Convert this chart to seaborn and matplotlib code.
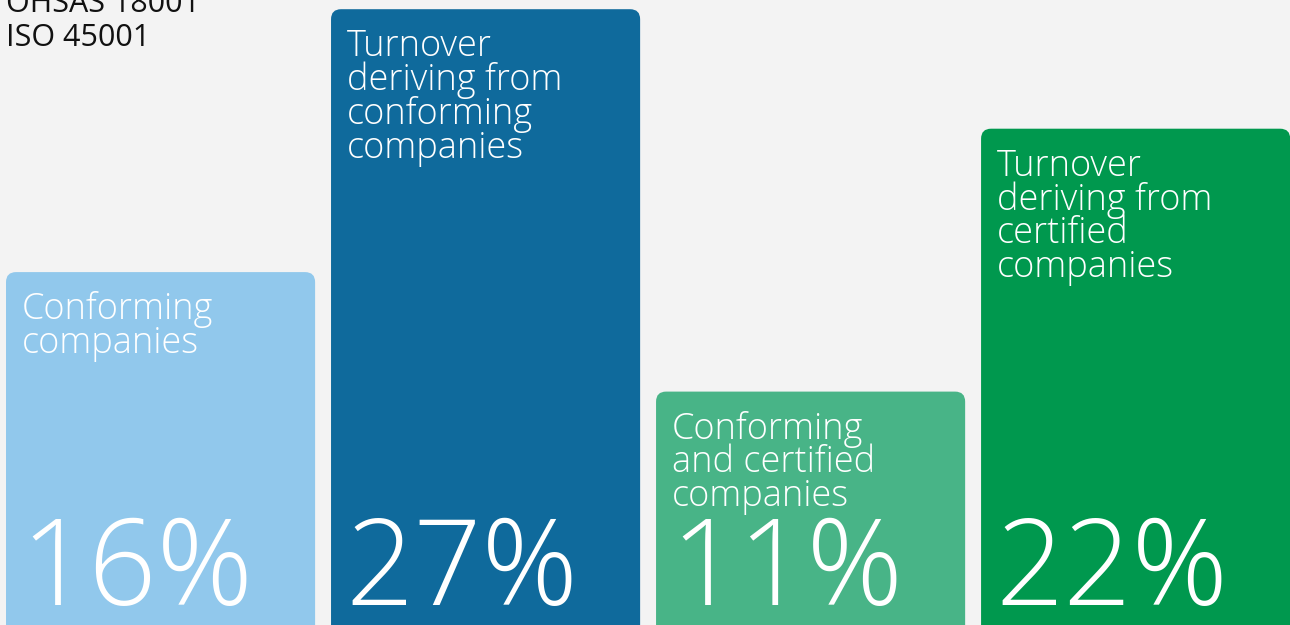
import matplotlib
matplotlib.use("Agg")
import matplotlib.pyplot as plt
from matplotlib.patches import FancyBboxPatch
import seaborn as sns

# data
categories = ["Conforming companies", "Turnover conforming", "Conforming and certified", "Turnover certified"]
values = [16, 27, 11, 22]
bar_labels = ["Conforming\ncompanies",
              "Turnover\nderiving from\nconforming\ncompanies",
              "Conforming\nand certified\ncompanies",
              "Turnover\nderiving from\ncertified\ncompanies"]
value_labels = ["16%", "27%", "11%", "22%"]
colors = ["#91c8ec", "#0f6a9c", "#48b487", "#00984e"]
corner_text = "OHSAS 18001\nISO 45001"

bg = "#f3f3f3"
sns.set_style("white")
plt.rcParams["font.family"] = ["Open Sans", "DejaVu Sans"]

fig = plt.figure(figsize=(12.9, 6.25), dpi=100, facecolor=bg)
ax = fig.add_axes([0, 0, 1, 1])
ax.set_facecolor(bg)

sns.barplot(x=categories, y=values, hue=categories, palette=colors, legend=False,
            width=0.951, ax=ax, saturation=1)

# pixel scale: 325 px per category, ~23.9 px per percent, bar base below the frame
px_x = 1 / 325
px_y = 1 / 23.9
ax.set_xlim(-0.494, 3.475)
ax.set_ylim(29.5 * px_y, 654.5 * px_y)

# swap plain bars for rounded ones
bars = list(ax.patches)
for i, p in enumerate(bars):
    x0, y0, w, h = p.get_x(), p.get_y(), p.get_width(), p.get_height()
    p.remove()
    rb = FancyBboxPatch((x0, y0), w, h,
                        boxstyle=f"round,pad=0,rounding_size={10 * px_x}",
                        mutation_aspect=px_y / px_x,
                        facecolor=colors[i], edgecolor="none")
    ax.add_patch(rb)
    ax.text(x0 + 16 * px_x, y0 + h - 19 * px_y, bar_labels[i],
            color="white", fontsize=26, fontweight="light", va="top", ha="left", linespacing=0.88)
    ax.text(x0 + 14 * px_x, 2.07, value_labels[i],
            color="white", fontsize=86, fontweight="light", va="baseline", ha="left")

fig.text(6 / 1290, 1 - 46 / 625, corner_text, color="#111111", fontsize=22,
         va="baseline", ha="left", linespacing=1.18)

ax.axis("off")
fig.savefig("out.png", dpi=100, facecolor=bg)
